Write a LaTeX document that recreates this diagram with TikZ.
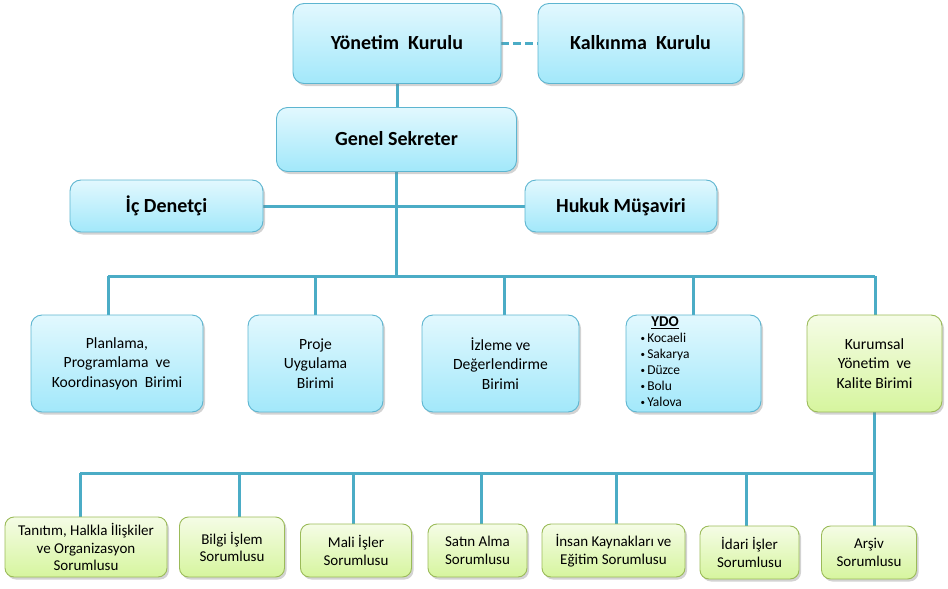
\documentclass[tikz,border=0pt]{standalone}
\usepackage{fontspec}
\setmainfont{Carlito}
\usetikzlibrary{shadows,backgrounds}
\definecolor{linkblue}{HTML}{4BACC6}
\definecolor{boxedge}{HTML}{5DB5D0}
\definecolor{bluetop}{HTML}{E2F8FE}
\definecolor{bluebot}{HTML}{A2E8FA}
\definecolor{greenedge}{HTML}{9BBB59}
\definecolor{greentop}{HTML}{F5FCE6}
\definecolor{greenbot}{HTML}{D6F59E}
\newcommand{\topfont}{\fontsize{20}{23}\selectfont\bfseries}
\newcommand{\midfont}{\fontsize{15.6}{19.5}\selectfont}
\newcommand{\botfont}{\fontsize{15}{17.5}\selectfont}
\newcommand{\ydofont}{\fontsize{13.5}{16}\selectfont}
\newcommand{\ydoitem}{{\fontsize{9}{9}\selectfont\raisebox{0.25ex}{•}}\,}
\tikzset{
  unitbox/.style  = {rounded corners=11pt, draw=boxedge, line width=0.9pt,
                     top color=bluetop, bottom color=bluebot,
                     align=center, inner sep=0pt,
                     drop shadow={opacity=0.35, shadow xshift=2pt, shadow yshift=-2.5pt}},
  headbox/.style  = {unitbox, font=\topfont, text height=16pt, text depth=3.5pt},
  greenbox/.style = {unitbox, rounded corners=9pt, draw=greenedge,
                     top color=greentop, bottom color=greenbot},
  sz/.style 2 args = {minimum width=#1pt, minimum height=#2pt},
  link/.style     = {draw=linkblue, line width=3pt},
  dashlink/.style = {link, dash pattern=on 8pt off 4pt},
}

\begin{document}
\begin{tikzpicture}[x=1pt, y=-1pt]
  \useasboundingbox (0,0) rectangle (948,589);

  % kurullar ve genel sekreter
  \node[headbox, sz={208}{80}] (yk)  at (397,43.5)    {Yönetim~ Kurulu};
  \node[headbox, sz={205}{80}] (kk)  at (640.5,43.5)  {Kalkınma~ Kurulu};
  \node[headbox, sz={240}{64}] (gs)  at (396.5,139.5) {Genel Sekreter};
  \node[headbox, sz={193}{52}] (icd) at (166.5,206)   {İç Denetçi};
  \node[headbox, sz={192}{52}] (huk) at (621,206)     {Hukuk Müşaviri};

  % birimler
  \node[unitbox, sz={172}{97}, font=\midfont] (plan)  at (117,363.5)
    {Planlama,\\Programlama~ ve\\Koordinasyon~ Birimi};
  \node[unitbox, sz={135}{97}, font=\midfont] (proje) at (315.5,363.5)
    {Proje\\Uygulama\\Birimi};
  \node[unitbox, sz={157}{97}, font=\midfont] (izle)  at (500.5,363.5)
    {İzleme ve\\Değerlendirme\\Birimi};
  \node[unitbox, sz={135}{97}, font=\ydofont] (ydo)   at (693.5,363.5)
    {\begin{tabular}{@{}l@{}}
       \multicolumn{1}{@{}c@{}}{\underline{\fontsize{15}{16}\selectfont\bfseries YDO}}\\
       \ydoitem Kocaeli\\ \ydoitem Sakarya\\ \ydoitem Düzce\\ \ydoitem Bolu\\ \ydoitem Yalova
     \end{tabular}\hspace*{57pt}};
  \node[greenbox, rounded corners=11pt, sz={135}{97}, font=\midfont] (kys) at (874.5,363.5)
    {Kurumsal\\Yönetim~ ve\\Kalite Birimi};

  % sorumluluklar
  \node[greenbox, sz={162}{60}, font=\botfont] (tan)   at (86,547)
    {Tanıtım, Halkla İlişkiler\\ve Organizasyon\\Sorumlusu};
  \node[greenbox, sz={105}{60}, font=\botfont] (bilgi) at (232,547)
    {Bilgi İşlem\\Sorumlusu};
  \node[greenbox, sz={111}{53}, font=\botfont] (mali)  at (356,550.5)
    {Mali İşler\\Sorumlusu};
  \node[greenbox, sz={99}{53},  font=\botfont] (satin) at (477.5,550.5)
    {Satın Alma\\Sorumlusu};
  \node[greenbox, sz={143}{53}, font=\botfont] (insan) at (613.5,550.5)
    {İnsan Kaynakları ve\\Eğitim Sorumlusu};
  \node[greenbox, sz={99}{53},  font=\botfont] (idari) at (749.5,552.5)
    {İdari İşler\\Sorumlusu};
  \node[greenbox, sz={95}{53},  font=\botfont] (arsiv) at (869,552.5)
    {Arşiv\\Sorumlusu};

  \begin{scope}[on background layer]
    \coordinate (busa) at (0,276);
    \coordinate (busb) at (0,473);
    \draw[dashlink] (yk.east) -- (kk.west);
    \draw[link] (yk.south) -- (yk.south |- gs.north);
    \draw[link] (icd.east) -- (huk.west);
    \draw[link] (gs.south) -- (gs.south |- busa);
    \draw[link] ([xshift=-9pt]plan.north |- busa) -- (kys.north |- busa);
    \foreach \n/\dx in {plan/-9, proje/0, izle/4, ydo/0, kys/1}
      \draw[link] ([xshift=\dx pt]\n.north) -- ([xshift=\dx pt]\n.north |- busa);
    \draw[link] (kys.south) -- (kys.south |- arsiv.north);
    \draw[link] ([xshift=-6pt]tan.north |- busb) -- (kys.south |- busb);
    \foreach \n/\dx in {tan/-6, bilgi/7, mali/-3, satin/4, insan/3, idari/-3}
      \draw[link] ([xshift=\dx pt]\n.north) -- ([xshift=\dx pt]\n.north |- busb);
  \end{scope}
\end{tikzpicture}
\end{document}
